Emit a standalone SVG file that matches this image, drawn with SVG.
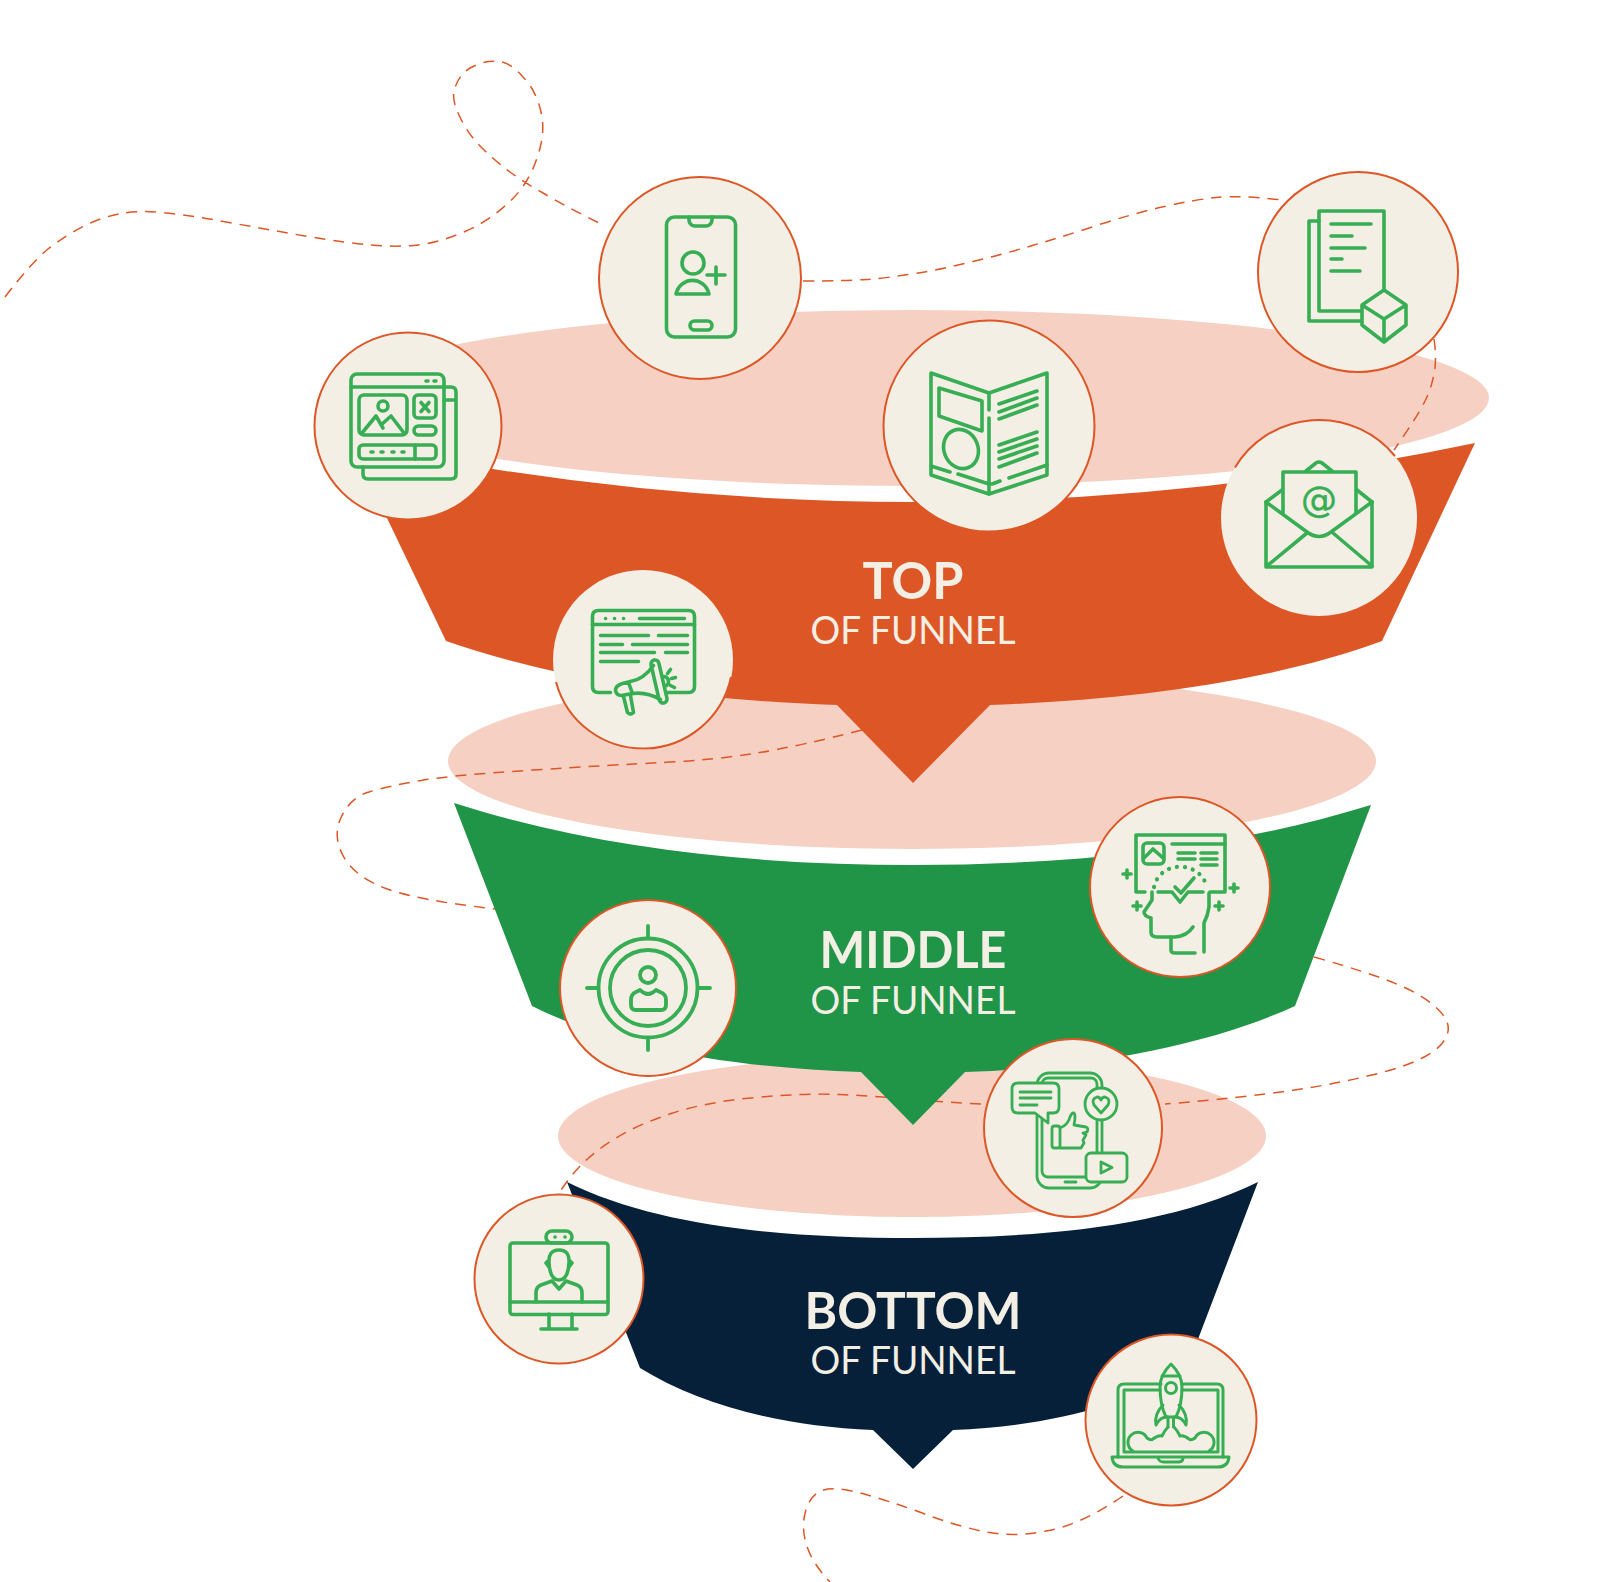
<svg xmlns="http://www.w3.org/2000/svg" width="1600" height="1582" viewBox="0 0 1600 1582">
<style>
.dash{fill:none;stroke:#DD5726;stroke-width:1.5;stroke-dasharray:11 8}
.disc{fill:#F3EFE5;stroke:#DD5726;stroke-width:2}
.ic{fill:none;stroke:#37AE54;stroke-width:3.6;stroke-linecap:round;stroke-linejoin:round}
.ic2{fill:none;stroke:#37AE54;stroke-width:2.8;stroke-linecap:round;stroke-linejoin:round}
.occ{fill:#F3EFE5}
.arc{fill:none;stroke:#DD5726;stroke-width:2}
.pink{fill:#F6D0C3}
.h{font-family:Lato,"Liberation Sans",sans-serif;font-weight:700;fill:#F3EFE5;text-anchor:middle;font-size:51px}
.s{font-family:Lato,"Liberation Sans",sans-serif;font-weight:400;fill:#F3EFE5;text-anchor:middle;font-size:39px}
</style>
<rect width="1600" height="1582" fill="#fff"/>
<g id="funnel-openings">
<ellipse class="pink" cx="913" cy="398" rx="576" ry="88"/>
<ellipse class="pink" cx="912" cy="761" rx="464" ry="88"/>
<ellipse class="pink" cx="912" cy="1136" rx="354" ry="81"/>
</g>
<g id="connectors">
<path class="dash" d="M5,297 Q31,263 48,249 Q66,235 84,226 Q102,217 121,213.5 Q140,210 167,213 Q194,216 232,223 Q270,230 308,236.5 Q347,243 370,245 Q393,247 413,245.500 Q434,244 459,234 Q485,224 506,205 Q528,186 537,158 Q546,133 541,112 Q536,90 523,77 Q510,62 498,61.500 Q487,60 474,66 Q461,72 456,85 Q450,97 459,115 Q467,133 481,147 Q495,161 510,172 Q525,183 543,193 Q561,204 605,226"/>
<path class="dash" d="M803,281 Q846,281 866,279.5 Q887,278 915,273.5 Q943,269 973,261.5 Q1004,254 1034,245 Q1065,236 1098,225 Q1132,214 1162,207 Q1193,200 1216,197.5 Q1239,195 1282,200"/>
<path class="dash" d="M1434,339 Q1437,359 1434,374 Q1431,390 1424,403 Q1417,417 1394,450"/>
<path class="dash" d="M862,730 Q800,746 757,753 Q714,760 663,762.5 Q612,765 533,770 Q454,775 421,780.5 Q388,786 369,792 Q351,797 341.500,816.5 Q332,836 343.500,856.5 Q355,877 386,888.5 Q415,900 496,909"/>
<path class="dash" d="M1314,957 Q1371,973 1399,985 Q1427,997 1441,1012.5 Q1455,1028 1442,1043.5 Q1429,1059 1389,1070.5 Q1348,1082 1294.5,1090 Q1241,1098 1165,1104"/>
<path class="dash" d="M981,1104 Q943,1102 908,1099 Q874,1096 840,1094.5 Q805,1093 755,1097.5 Q706,1102 671,1113.5 Q637,1125 616,1138 Q595,1151 581,1165 Q568,1179 559,1193"/>
<path class="dash" d="M1123,1496 Q1081,1525 1046,1531 Q1012,1538 981,1531 Q950,1524 919.5,1512 Q889,1501 862.5,1493.5 Q834,1486 822,1490.500 Q810,1495 805.500,1511.5 Q801,1527 806.500,1545 Q812,1563 830,1582"/>
</g>
<g id="band-top">
<path fill="#DD5726" d="M351,443 Q913,561 1475,443 L1382,641 C1270,682 1130,700 990,705 L913,783 L837,705 C690,700 560,680 446,641 Z"/>
<text class="h" x="913" y="599" textLength="101" lengthAdjust="spacingAndGlyphs">TOP</text>
<text class="s" x="913" y="644" textLength="205" lengthAdjust="spacingAndGlyphs">OF FUNNEL</text>
</g>
<g id="band-middle">
<path fill="#209447" d="M454,803 C600,850 760,865 913,865 C1066,865 1225,850 1371,805 L1295,1006 C1210,1045 1090,1068 965,1072 L913,1125 L861,1072 C740,1068 620,1050 532,1006 Z"/>
<text class="h" x="913" y="968" textLength="187" lengthAdjust="spacingAndGlyphs">MIDDLE</text>
<text class="s" x="913" y="1014" textLength="205" lengthAdjust="spacingAndGlyphs">OF FUNNEL</text>
</g>
<g id="band-bottom">
<path fill="#062039" d="M567,1182 C660,1228 790,1238 913,1238 C1035,1238 1165,1228 1258,1182 L1187,1368 C1120,1410 1040,1426 953,1430 L913,1469 L873,1430 C780,1426 700,1405 640,1368 Z"/>
<text class="h" x="913" y="1329" textLength="217" lengthAdjust="spacingAndGlyphs">BOTTOM</text>
<text class="s" x="913" y="1374" textLength="205" lengthAdjust="spacingAndGlyphs">OF FUNNEL</text>
</g>
<g id="node-phone">
<circle class="disc" cx="700" cy="278" r="101"/>
<g class="ic" transform="translate(0,1)">
<rect x="666.500" y="216" width="69" height="120" rx="8"/>
<path d="M689,216 v3 a6,6 0 0 0 6,6 h11 a6,6 0 0 0 6,-6 v-3"/>
<rect x="690" y="320" width="22" height="9" rx="4.5"/>
<circle cx="693" cy="262" r="11"/>
<path d="M676,293 A17,18 0 0 1 709,293 Z"/>
<path d="M707,274 H725 M716,266 V283"/>
</g>
</g>
<g id="node-web">
<circle class="disc" cx="408" cy="426" r="93.5"/>
<g class="ic" transform="translate(0,1)">
<rect x="351" y="373" width="93" height="93" rx="6"/>
<path d="M351,386 H444 M426,380 H428 M434,380 H436"/>
<path d="M444,386 H451 Q456,386 456,391 V473 Q456,478 451,478 H368 Q363,478 363,473 V466 M444,399 H456"/>
<rect x="359" y="394" width="48" height="40" rx="5"/>
<circle cx="383" cy="405" r="5"/>
<path d="M362,432 L376,415 L383,427 M381,424 L391,415 L404,432"/>
<rect x="414" y="394" width="22" height="23" rx="4"/>
<path d="M421,401.500 L429,410.500 M429,401.500 L421,410.500"/>
<rect x="414" y="425" width="22" height="9" rx="4.500"/>
<rect x="359" y="444" width="77" height="14" rx="4"/>
<path d="M415,444 V458 M371,451 H373 M381,451 H383 M392,451 H394 M402,451 H404"/>
</g>
</g>
<g id="node-brochure">
<circle class="disc" cx="989" cy="426" r="105.500"/>
<g class="ic" transform="translate(0,1)">
<path d="M931,372 L989,392 L1047,372 V474 L989,493 L931,474 Z"/>
<path d="M989,392 V409 M989,417 V493"/>
<path d="M939,387 L982,400 V430 L939,415 Z"/>
<ellipse cx="961" cy="448" rx="17" ry="20" transform="rotate(-22 961 448)"/>
<path d="M999,403 L1037,390 M999,411 L1037,397 M999,418 L1037,404 M999,444 L1037,431 M999,451 L1037,438 M999,458 L1037,445 M999,466 L1037,452"/>
<path d="M931,465 L950,471 M958,473 L989,483 M992,483 L1000,480 M1009,477 L1047,464"/>
</g>
</g>
<g id="node-document">
<circle class="disc" cx="1358" cy="272" r="100"/>
<g class="ic">
<path d="M1384,290 V211 H1319 V311 H1361"/>
<path d="M1319,221 H1309 V321 H1361"/>
<path d="M1331,224 H1371 M1331,236 H1352 M1331,248 H1365 M1331,259 H1342 M1331,271 H1360"/>
<path d="M1384,290 L1362,305 L1384,319 L1406,305 Z M1362,305 V325 L1384,342 L1406,325 V305 M1384,319 V342"/>
</g>
</g>
<g id="node-email">
<circle class="occ" cx="1319" cy="518" r="98"/>
<path class="arc" d="M1235,467.500 A98,98 0 0 1 1395,456"/>
<g class="ic">
<path d="M1266,502 V567 H1372 V502"/>
<path d="M1266,502 L1307,532 Q1319,541 1331,532 L1372,502"/>
<path d="M1267,566 L1307,533 M1372,566 L1333,533"/>
<path d="M1266,502 L1282,490 M1372,502 L1357,490"/>
<path d="M1283,513 V472 H1356 V513"/>
<path d="M1306,471 L1316,463 Q1319,461 1322,463 L1332,471"/>
</g>
<text x="1319" y="512" font-family="'DejaVu Sans',sans-serif" font-size="36" fill="#37AE54" stroke="#37AE54" stroke-width="0.5" text-anchor="middle">@</text>
</g>
<g id="node-megaphone">
<circle class="occ" cx="643" cy="660" r="90"/>
<path class="arc" d="M556,682 A90,90 0 0 0 731,677"/>
<g transform="translate(0.500,1.500)">
<g class="ic">
<path d="M610,691 H598 Q592,691 592,685 V615 Q592,609 598,609 H688 Q694,609 694,615 V685 Q694,691 688,691 H667"/>
<path d="M592,623 H694"/>
<path d="M605,617 H605.100 M614,617 H614.100 M623,617 H623.100 M639,617 H684"/>
<path d="M600,634 H648 M658,634 H687 M600,643 H622 M632,643 H687 M600,651 H654 M665,651 H687 M600,660 H638"/>
</g>
<path class="occ" d="M620,680 L652,660 L664,702 L632,694 L615,692 Z"/>
<g class="ic">
<path d="M630,680 Q643,678 653,664"/>
<path d="M632,692 Q646,690 660,698"/>
<rect x="654.500" y="658" width="8" height="44" rx="4" transform="rotate(-13 658.500 680)"/>
<path d="M630,680 L622,682 Q615,684 615,689 Q616,694 621,694 L632,692 M628,681 L632,692"/>
<path d="M623,695 L627,711 Q630,714 633,711 L630,694"/>
<path d="M663,675 A5,5 0 0 1 666,684 M670,668 L667,672 M671,677 L675,676 M670,684 L674,686"/>
</g>
</g>
</g>
<g id="node-head">
<circle class="disc" cx="1180" cy="887" r="90"/>
<g class="ic">
<path d="M1145,892 H1136 V835 H1225 V892 H1210"/>
<path d="M1158,892 H1172 L1180,902 L1188,892 H1203"/>
<path d="M1172,844 H1225"/>
<rect x="1143" y="843" width="21" height="21" rx="4"/>
<path d="M1144,858 L1153,849 L1163,858"/>
<path d="M1178,853 H1195 M1178,859 H1195 M1201,853 H1217 M1201,859 H1217 M1201,865 H1217"/>
<path d="M1175,887 L1181,893 L1194,878"/>
<path d="M1154,887 C1160,860 1200,860 1207,887" stroke-dasharray="0.100 8" style="stroke-width:4.200"/>
<path d="M1152,892 V900 L1144,912 Q1144,916 1151,918 V932 Q1151,937 1157,937 H1175 Q1187,936 1193,927"/>
<path d="M1171,937 V950 Q1171,953 1175,953 H1195"/>
<path d="M1209,893 V907 Q1208,915 1204,923 V952"/>
<path d="M1123,874 H1131 M1127,870 V878 M1133,906 H1141 M1137,902 V910 M1215,906 H1223 M1219,902 V910 M1230,888 H1238 M1234,884 V892"/>
</g>
</g>
<g id="node-target">
<circle class="disc" cx="648" cy="988" r="88"/>
<g class="ic" style="stroke-width:3.800">
<circle cx="648" cy="988" r="49.500"/>
<circle cx="648" cy="988" r="38"/>
<path d="M587,988 H598 M698,988 H710 M648,926 V938 M648,1038 V1050"/>
<circle cx="648" cy="975" r="8"/>
<path d="M640,990 Q648,998 656,990 L660,992 Q666,994 666,1000 V1005 Q666,1010 661,1010 H636 Q631,1010 631,1005 V1000 Q631,994 636,992 Z"/>
</g>
</g>
<g id="node-social">
<circle class="disc" cx="1073" cy="1128" r="89"/>
<g class="ic2">
<rect x="1037" y="1073" width="65" height="115" rx="12"/>
<rect x="1042" y="1078" width="55" height="99" rx="6"/>
<path class="occ" style="stroke:#37AE54" d="M1018,1083 H1053 Q1059,1083 1059,1089 V1107 Q1059,1113 1053,1113 H1048 V1123 L1035,1113 H1018 Q1012,1113 1012,1107 V1089 Q1012,1083 1018,1083 Z"/>
<path d="M1020,1092 H1051 M1020,1098 H1051 M1020,1105 H1037"/>
<circle class="occ" style="stroke:#37AE54" cx="1101" cy="1104" r="16"/>
<path d="M1101,1113 L1094,1105 Q1091,1099 1097,1097 Q1100,1097 1101,1100 Q1102,1097 1105,1097 Q1111,1099 1108,1105 Z"/>
<rect class="occ" style="stroke:#37AE54" x="1086" y="1153" width="41" height="29" rx="5"/>
<path d="M1101,1162 L1112,1167.500 L1101,1173 Z"/>
<path d="M1065,1182 H1076"/>
<rect x="1052" y="1126" width="8" height="22" rx="2.500"/>
<path d="M1060,1128 Q1068,1125 1070,1117 Q1072,1112 1074,1113 Q1076,1115 1074,1125 L1086,1127 Q1089,1128 1087,1132 L1083,1133 L1086,1135 L1083,1140 L1084,1143 L1081,1148 H1060"/>
</g>
</g>
<g id="node-webcam">
<circle class="disc" cx="559" cy="1279" r="84.500"/>
<g class="ic">
<rect x="510" y="1243" width="98" height="71.500" rx="3"/>
<path d="M510,1302 H608 M549,1314 V1329 M572,1314 V1329 M541,1329 H577"/>
<rect x="546" y="1231" width="26" height="12" rx="6"/>
<path d="M555,1237 H555.100 M565,1237 H565.100"/>
<path d="M549,1263 Q548,1250 559,1250 Q570,1250 569,1263 Q568,1280 559,1280 Q550,1280 549,1263 Z M549,1260 L546,1263 L549,1267 M569,1260 L572,1263 L569,1267"/>
<path d="M536,1302 V1293 Q536,1287 541,1285 L552,1281 L559,1289 L566,1281 L577,1285 Q582,1287 582,1293 V1302"/>
</g>
</g>
<g id="node-rocket">
<circle class="disc" cx="1171" cy="1420" r="85.500"/>
<g class="ic2" style="stroke-width:3">
<path d="M1161,1384 H1124 Q1118,1384 1118,1390 V1457 M1182,1384 H1217 Q1223,1384 1223,1390 V1457"/>
<path d="M1160,1390 H1124 V1452 H1218 V1390 H1182"/>
<path d="M1112,1457 H1229 Q1228,1467 1218,1467 H1123 Q1113,1467 1112,1457 Z"/>
<path d="M1158,1458 Q1159,1462 1164,1462 H1178 Q1183,1462 1183,1458"/>
<path d="M1171,1364 Q1160,1375 1160,1387 Q1160,1405 1166,1417 H1176 Q1182,1405 1182,1387 Q1182,1375 1171,1364 Z"/>
<path d="M1162,1376 H1180"/>
<circle cx="1171" cy="1388" r="5.500"/>
<path d="M1163,1405 Q1154,1414 1156,1425 Q1160,1417 1167,1417 M1179,1405 Q1188,1414 1186,1425 Q1182,1417 1175,1417"/>
<path d="M1168,1417 V1427 M1173.500,1417 V1427"/>
<path d="M1133,1451 A10,10 0 1 1 1147,1438 Q1151,1441 1153,1439 Q1158,1435 1162,1436 Q1165,1430 1168,1427"/>
<path d="M1209,1451 A10,10 0 1 0 1195,1438 Q1191,1441 1189,1439 Q1184,1435 1180,1436 Q1177,1430 1174,1427"/>
</g>
</g>
</svg>
